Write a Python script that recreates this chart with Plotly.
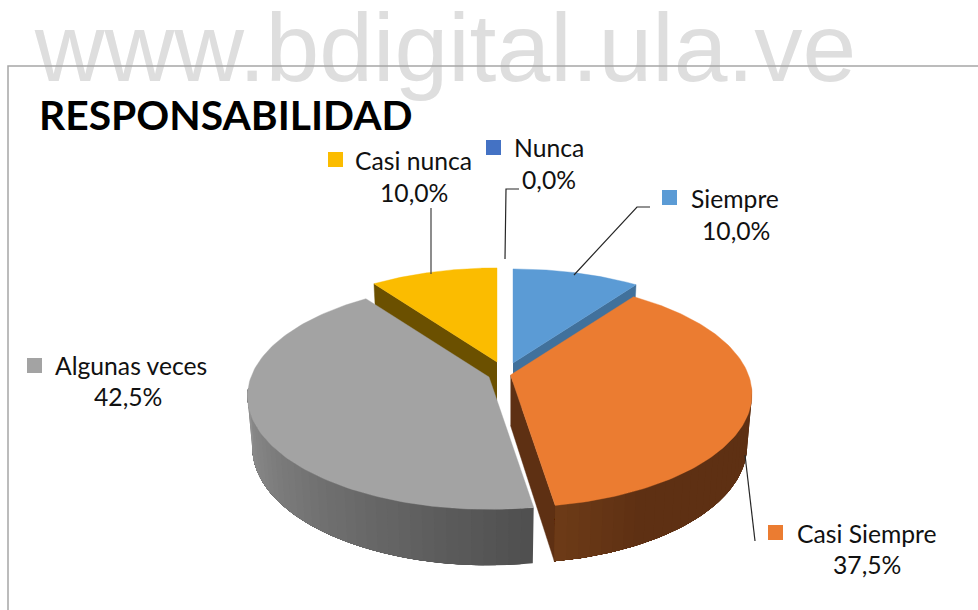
import numpy as np
import plotly.graph_objects as go

# ---- data ----
categories = ["Siempre", "Casi Siempre", "Algunas veces", "Casi nunca", "Nunca"]
percent = [10.0, 37.5, 42.5, 10.0, 0.0]
labels = ["10,0%", "37,5%", "42,5%", "10,0%", "0,0%"]

# ---- style ----
W, H = 978, 610
top_col = {"Siempre": "#5b9bd5", "Casi Siempre": "#eb7c31", "Algunas veces": "#a3a3a3",
           "Casi nunca": "#fbbc00", "Nunca": "#4472c4"}
face_col = {"Siempre": "#41719c", "Casi Siempre": "#5e3013", "Algunas veces": "#555555",
            "Casi nunca": "#6b5000", "Nunca": "#2f5597"}
wall_ends = {"Casi Siempre": ((94, 48, 19), (110, 60, 24)),
             "Algunas veces": ((148, 148, 148), (80, 80, 80)),
             "Siempre": ((65, 113, 156), (65, 113, 156)),
             "Casi nunca": ((107, 80, 0), (107, 80, 0)),
             "Nunca": ((47, 85, 151), (47, 85, 151))}
apex = {"Siempre": (513, 363), "Casi Siempre": (510.5, 375), "Algunas veces": (489, 377),
        "Casi nunca": (497, 362), "Nunca": (505, 362)}
draw_order = ["Nunca", "Siempre", "Casi nunca", "Casi Siempre", "Algunas veces"]
key_pos = {"Siempre": (669.5, 197.5), "Casi Siempre": (775.5, 532.5), "Algunas veces": (34.5, 365.5),
           "Casi nunca": (335.5, 159.5), "Nunca": (493.5, 147.5)}
name_pos = {"Siempre": (734.5, 198.5), "Casi Siempre": (866.5, 533.5), "Algunas veces": (130.5, 365.5),
            "Casi nunca": (413.5, 160.5), "Nunca": (549, 147.5)}
value_pos = {"Siempre": (735.5, 230.5), "Casi Siempre": (866.5, 564.5), "Algunas veces": (127.5, 396.5),
             "Casi nunca": (413.5, 192.5), "Nunca": (548.5, 179.5)}
leaders = [((431, 431), (208, 274), "#404040"),
           ((519, 506, 505), (189, 189, 259), "#262626"),
           ((650, 637, 574), (207, 207, 275), "#262626"),
           ((745, 755), (455, 541), "#262626")]
FONT = "Lato"
P, R0, K = 0.169, 238.0, 110.0


def top_pt(a, th):
    u, v = np.sin(th), -np.cos(th)
    w = 1 / (1 - P * v)
    return a[0] + R0 * u * w, a[1] + K * v * w


def low_pt(a, th):
    u, v = np.sin(th), -np.cos(th)
    w = 1 / (1 - P * v)
    return a[0] + 0.98 * R0 * u * w, a[1] + K * v * w + 50.5 + 5.5 * v


def poly(fig, xs, ys, col, lw=0.4):
    fig.add_trace(go.Scatter(x=xs, y=ys, mode="lines", fill="toself", fillcolor=col,
                             line=dict(color=col, width=lw), hoverinfo="skip", showlegend=False))


fig = go.Figure()

# watermark and frame sit under everything
fig.add_trace(go.Scatter(x=[445.5], y=[57], mode="text", text=["www.bdigital.ula.ve"],
                         textposition="middle center",
                         textfont=dict(family="Liberation Sans", size=96.6, color="#dedede"),
                         hoverinfo="skip", showlegend=False, cliponaxis=False))
fig.add_trace(go.Scatter(x=[8, 8, 978], y=[610, 66, 66], mode="lines",
                         line=dict(color="#a6a6a6", width=1.5), hoverinfo="skip", showlegend=False))

# slice angle spans, clockwise from 12 o'clock
cum = np.cumsum([0.0] + percent)
span = {c: (cum[i] / 100 * 2 * np.pi, cum[i + 1] / 100 * 2 * np.pi) for i, c in enumerate(categories)}

for c in draw_order:
    t1, t2 = span[c]
    if t2 - t1 <= 0:
        continue
    a = apex[c]
    # cut faces
    for th, visible in ((t2, np.sin(t2) > 1e-6), (t1, np.sin(t1) < -1e-6)):
        if visible:
            px, py = top_pt(a, th)
            qx, qy = low_pt(a, th)
            poly(fig, [a[0], px, qx, a[0]], [a[1], py, qy, a[1] + 50.5], face_col[c])
    # outer wall, shaded band by band; each band runs on to the wall's end so no seams show
    lo = max(t1, np.arccos(-0.10))
    hi = min(t2, 2 * np.pi - np.arccos(-0.10))
    if hi > lo:
        edges = np.linspace(lo, hi, max(2, int((hi - lo) / np.radians(2.5)) + 1))
        c_a, c_b = wall_ends[c]
        for i in range(len(edges) - 1):
            f = (edges[i] - np.radians(99)) / np.radians(171)
            if c == "Casi Siempre":
                f = np.clip((edges[i] - np.radians(150)) / np.radians(21), 0, 1)
            elif c == "Algunas veces":
                f = np.clip((np.radians(265) - edges[i]) / np.radians(94), 0, 1)
            col = "rgb(%d,%d,%d)" % tuple(c_a[j] + (c_b[j] - c_a[j]) * f for j in range(3))
            th = np.linspace(edges[i], hi, 60)
            tx, ty = top_pt(a, th)
            bx, by = low_pt(a, th)
            poly(fig, list(tx) + list(bx[::-1]) + [tx[0]], list(ty) + list(by[::-1]) + [ty[0]], col, lw=0)
    # top face
    th = np.linspace(t1, t2, 120)
    tx, ty = top_pt(a, th)
    poly(fig, [a[0]] + list(tx) + [a[0]], [a[1]] + list(ty) + [a[1]], top_col[c])

# leader lines
for lx, ly, lc in leaders:
    fig.add_trace(go.Scatter(x=list(lx), y=list(ly), mode="lines", line=dict(color=lc, width=1.2),
                             hoverinfo="skip", showlegend=False))

# legend keys
fig.add_trace(go.Scatter(x=[key_pos[c][0] for c in categories], y=[key_pos[c][1] for c in categories],
                         mode="markers",
                         marker=dict(symbol="square", size=15, color=[top_col[c] for c in categories]),
                         hoverinfo="skip", showlegend=False))

# data labels
for c, lab in zip(categories, labels):
    for pos, txt in ((name_pos[c], c), (value_pos[c], lab)):
        fig.add_annotation(x=pos[0], y=pos[1], text=txt, showarrow=False, xanchor="center", yanchor="middle",
                           font=dict(family=FONT, size=24.7, color="#111111"))

fig.update_layout(
    width=W, height=H, margin=dict(l=0, r=0, t=0, b=0),
    paper_bgcolor="white", plot_bgcolor="white", showlegend=False,
    title=dict(text="<b>RESPONSABILIDAD</b>", x=39 / W, xanchor="left", xref="paper",
               y=1 - 116 / H, yanchor="middle", yref="paper",
               font=dict(family=FONT, size=40.8, color="#000000")),
    xaxis=dict(range=[0, W], visible=False, fixedrange=True),
    yaxis=dict(range=[H, 0], visible=False, fixedrange=True),
)
fig.write_html("out.html", config={"displayModeBar": False},
               post_script="document.body.style.margin='0';")
